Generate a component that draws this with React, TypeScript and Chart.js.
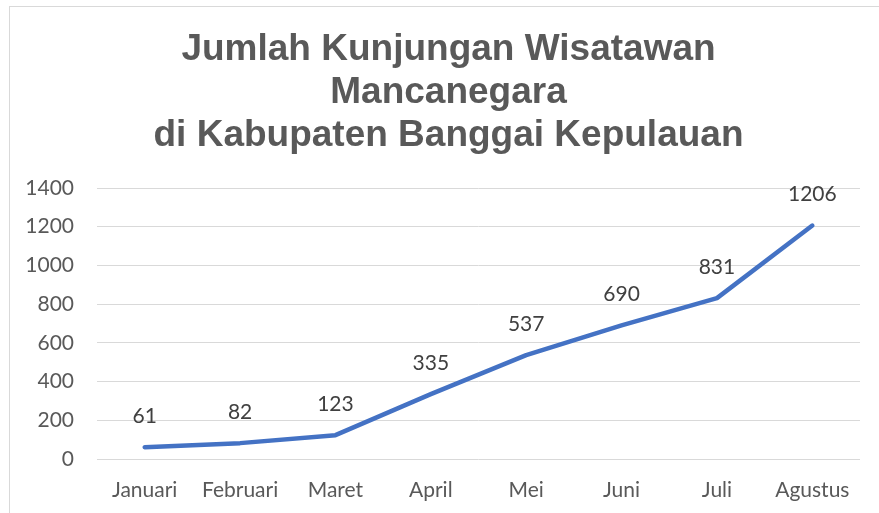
import React, { useEffect, useRef } from "react";
import { Chart, registerables } from "chart.js";

Chart.register(...registerables);

const titleLines = ["Jumlah Kunjungan Wisatawan", "Mancanegara", "di Kabupaten Banggai Kepulauan"];
const months = ["Januari", "Februari", "Maret", "April", "Mei", "Juni", "Juli", "Agustus"];
const visitors = [61, 82, 123, 335, 537, 690, 831, 1206];
const yMin = 0;
const yMax = 1400;
const yStep = 200;

const W = 879;
const H = 513;
const FONT = "Lato, 'Open Sans', sans-serif";

const framePlugin = {
  id: "frame",
  beforeDraw(chart: any) {
    const ctx = chart.ctx;
    ctx.save();
    ctx.fillStyle = "#ffffff";
    ctx.fillRect(0, 0, W, H);
    ctx.strokeStyle = "#d9d9d9";
    ctx.lineWidth = 1;
    ctx.strokeRect(9.5, 6.5, 900, 600);
    ctx.fillStyle = "#595959";
    ctx.font = "bold 37px 'Liberation Sans', Arial, sans-serif";
    ctx.textAlign = "center";
    ctx.textBaseline = "alphabetic";
    const cx = 448.5;
    const baselines = [59.5, 102.5, 145.5];
    titleLines.forEach((line, i) => {
      ctx.fillText(line, cx, baselines[i]);
    });
    ctx.restore();
  },
};

const labelPlugin = {
  id: "pointLabels",
  afterDatasetsDraw(chart: any) {
    const ctx = chart.ctx;
    const meta = chart.getDatasetMeta(0);
    const data = chart.data.datasets[0].data;
    ctx.save();
    ctx.fillStyle = "#404040";
    ctx.font = "21px " + FONT;
    ctx.textAlign = "center";
    ctx.textBaseline = "middle";
    meta.data.forEach((pt: any, i: number) => {
      ctx.fillText(String(data[i]), pt.x, pt.y - 31);
    });
    ctx.restore();
  },
};

export default function App() {
  const ref = useRef<HTMLCanvasElement>(null);
  useEffect(() => {
    if (!ref.current) return;
    const chart = new Chart(ref.current, {
      type: "line",
      data: {
        labels: months,
        datasets: [
          {
            data: visitors,
            borderColor: "#4472C4",
            backgroundColor: "#4472C4",
            borderWidth: 4.5,
            pointRadius: 0,
            pointHoverRadius: 0,
            tension: 0,
            borderCapStyle: "round",
            borderJoinStyle: "round",
          },
        ],
      },
      options: {
        responsive: false,
        animation: false,
        layout: { padding: { left: 10, right: 19, top: 188, bottom: 0 } },
        plugins: {
          legend: { display: false },
          title: { display: false },
          tooltip: { enabled: false },
        },
        scales: {
          x: {
            offset: true,
            grid: { display: false, drawTicks: false },
            border: { display: false },
            ticks: {
              color: "#595959",
              font: { family: FONT, size: 21 },
              padding: 19,
              maxRotation: 0,
              autoSkip: false,
            },
            afterFit(scale: any) {
              scale.height = 54;
            },
          },
          y: {
            min: yMin,
            max: yMax,
            grid: { color: "#d9d9d9", lineWidth: 1, drawTicks: false },
            border: { display: false },
            ticks: {
              stepSize: yStep,
              color: "#595959",
              font: { family: FONT, size: 21 },
              padding: 23,
              callback: (v: any) => String(v),
            },
            afterFit(scale: any) {
              scale.width = 87;
            },
          },
        },
      },
      plugins: [framePlugin, labelPlugin],
    });
    return () => chart.destroy();
  }, []);
  return (
    <div style={{ position: "fixed", left: 0, top: 0, width: W, height: H, overflow: "hidden", background: "#fff" }}>
      <canvas ref={ref} width={W} height={H} style={{ display: "block", width: W, height: H }} />
    </div>
  );
}
